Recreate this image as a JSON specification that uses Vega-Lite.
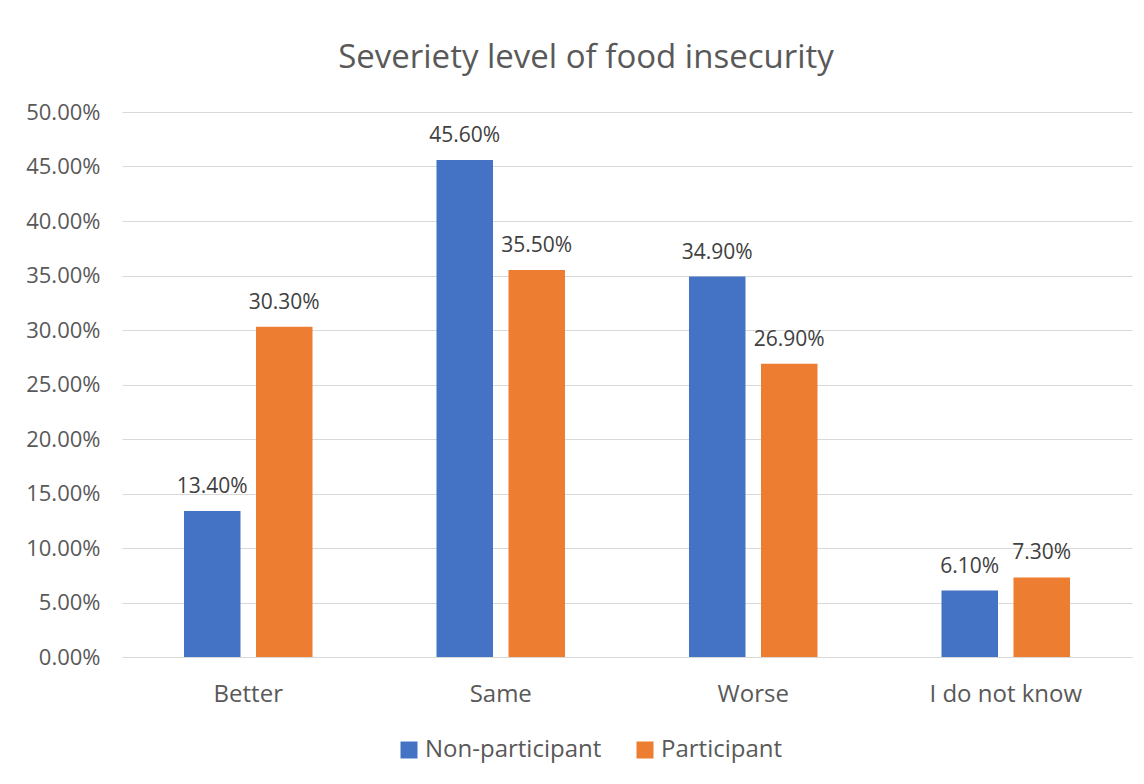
{
  "$schema": "https://vega.github.io/schema/vega-lite/v6.json",
  "width": 1010,
  "height": 545,
  "autosize": {"type": "none"},
  "padding": {"left": 122, "top": 112, "right": 12, "bottom": 127},
  "background": "white",
  "config": {
    "font": "Open Sans",
    "view": {"stroke": null},
    "axis": {"labelFont": "Open Sans", "labelColor": "#595959", "labelFontSize": 22}
  },
  "title": {
    "text": "Severiety level of food insecurity",
    "fontSize": 33,
    "fontWeight": "normal",
    "color": "#595959",
    "anchor": "middle",
    "dx": -41,
    "baseline": "alphabetic",
    "offset": 0
  },
  "data": {
    "values": [
      {"category": "Better", "group": "Non-participant", "value": 0.134},
      {"category": "Better", "group": "Participant", "value": 0.303},
      {"category": "Same", "group": "Non-participant", "value": 0.456},
      {"category": "Same", "group": "Participant", "value": 0.355},
      {"category": "Worse", "group": "Non-participant", "value": 0.349},
      {"category": "Worse", "group": "Participant", "value": 0.269},
      {"category": "I do not know", "group": "Non-participant", "value": 0.061},
      {"category": "I do not know", "group": "Participant", "value": 0.073}
    ]
  },
  "encoding": {
    "x": {
      "field": "category",
      "type": "nominal",
      "sort": ["Better", "Same", "Worse", "I do not know"],
      "title": null,
      "scale": {"paddingInner": 0.491, "paddingOuter": 0.2455},
      "axis": {
        "labelAngle": 0,
        "labelFontSize": 24,
        "domain": true,
        "domainColor": "#d9d9d9",
        "domainWidth": 1,
        "ticks": false,
        "tickSize": 0,
        "labelPadding": 25,
        "grid": false
      }
    },
    "xOffset": {
      "field": "group",
      "type": "nominal",
      "scale": {"paddingInner": 0.2153, "paddingOuter": 0}
    },
    "y": {
      "field": "value",
      "type": "quantitative",
      "title": null,
      "scale": {"domain": [0, 0.5], "nice": false},
      "axis": {
        "format": ".2%",
        "values": [0, 0.05, 0.1, 0.15, 0.2, 0.25, 0.3, 0.35, 0.4, 0.45, 0.5],
        "domain": false,
        "ticks": false,
        "tickSize": 0,
        "grid": true,
        "gridColor": "#d9d9d9",
        "gridWidth": 1,
        "labelPadding": 22
      }
    }
  },
  "layer": [
    {
      "mark": {"type": "bar"},
      "encoding": {
        "color": {
          "field": "group",
          "type": "nominal",
          "scale": {"domain": ["Non-participant", "Participant"], "range": ["#4472C4", "#ED7D31"]},
          "legend": {
            "title": null,
            "orient": "none",
            "direction": "horizontal",
            "legendX": 275,
            "legendY": 626,
            "symbolType": "square",
            "symbolSize": 289,
            "symbolStrokeWidth": 0,
            "labelFontSize": 24,
            "labelLimit": 400,
            "labelColor": "#595959",
            "labelOffset": 4,
            "columnPadding": 31
          }
        }
      }
    },
    {
      "mark": {"type": "text", "dy": -18, "baseline": "alphabetic", "fontSize": 21, "color": "#404040"},
      "encoding": {
        "text": {"field": "value", "type": "quantitative", "format": ".2%"}
      }
    }
  ]
}
